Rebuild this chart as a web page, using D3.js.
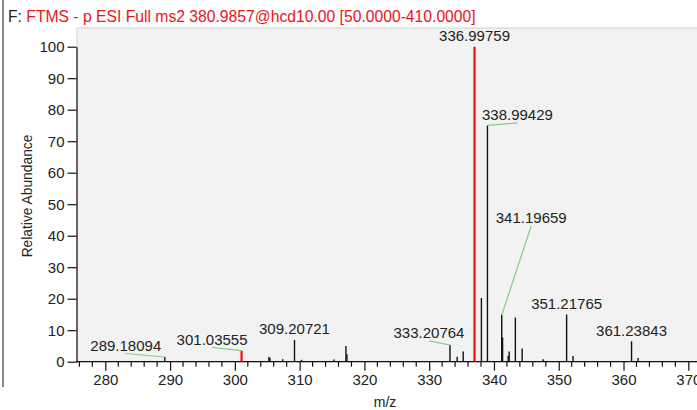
<!DOCTYPE html>
<html>
<head>
<meta charset="utf-8">
<script src="https://cdn.jsdelivr.net/npm/d3@7"></script>
<style>
  html, body { margin: 0; padding: 0; background: #fff; }
  svg { display: block; font-family: "Liberation Sans", Arial, sans-serif; }
</style>
</head>
<body>
<svg id="chart" width="697" height="410"></svg>
<script>
// ---- data ----
const titlePrefix = "F:";
const titleText = "FTMS - p ESI Full ms2 380.9857@hcd10.00 [50.0000-410.0000]";
const xLabel = "m/z";
const yLabel = "Relative Abundance";
const xTickValues = [280, 290, 300, 310, 320, 330, 340, 350, 360, 370];
const yTickValues = [0, 10, 20, 30, 40, 50, 60, 70, 80, 90, 100];

// peaks: m/z and relative abundance
const peakMz = [289.18094, 301.03555, 305.26, 305.42, 307.38, 309.20721, 310.30, 315.30, 317.15, 317.30,
                333.20764, 334.32, 335.25, 336.99759, 338.06, 338.99429, 341.19659, 341.33, 342.19, 342.35,
                343.30, 344.35, 347.60, 351.21765, 352.20, 361.23843, 362.25];
const peakAbundance = [1.5, 3.5, 1.6, 1.2, 0.8, 6.9, 0.6, 0.7, 5.0, 2.4,
                       5.3, 1.6, 3.2, 100, 20.2, 75, 14.8, 7.7, 1.9, 3.2,
                       14.0, 4.2, 0.8, 15.0, 1.8, 6.5, 1.2];
// red highlighted peaks
const highlightedMz = [301.03555, 336.99759];
// labelled peaks
const labelMz = [289.18094, 301.03555, 309.20721, 333.20764, 336.99759, 338.99429, 341.19659, 351.21765, 361.23843];
const labelText = ["289.18094", "301.03555", "309.20721", "333.20764", "336.99759", "338.99429", "341.19659", "351.21765", "361.23843"];

// ---- layout (pixels) ----
const labelLayout = {
  "289.18094": {dx: -39, dy: -6, leader: true},
  "301.03555": {dx: -29.5, dy: -5.7, leader: true},
  "309.20721": {dx: 0, dy: -6, leader: false},
  "333.20764": {dx: -21, dy: -6.7, leader: true},
  "336.99759": {dx: 0, dy: -6, leader: false},
  "338.99429": {dx: 30, dy: -5, leader: true},
  "341.19659": {dx: 29.5, dy: -91.7, leader: true},
  "351.21765": {dx: 0, dy: -5, leader: false},
  "361.23843": {dx: 0, dy: -5.3, leader: false}
};

const svg = d3.select("#chart");
const W = 697, H = 410;
const plotLeft = 77, plotTop = 28, plotBottom = 361.7;

const x = d3.scaleLinear().domain([280, 370]).range([105.3, 688.3]);
const y = d3.scaleLinear().domain([0, 100]).range([361.7, 46.7]);

// outer left border
svg.append("line").attr("x1", 3).attr("x2", 3).attr("y1", 0).attr("y2", 387)
  .attr("stroke", "#8a8a8a").attr("stroke-width", 2);

// title
const title = svg.append("text").attr("x", 8).attr("y", 22).attr("font-size", 15.7);
title.append("tspan").attr("fill", "#222").text(titlePrefix + " ");
title.append("tspan").attr("fill", "#e8141c").text(titleText);

// plot background
svg.append("rect").attr("x", plotLeft).attr("y", plotTop)
  .attr("width", W - plotLeft + 5).attr("height", plotBottom - plotTop)
  .attr("fill", "#f2f2f2").attr("stroke", "#d2d2d2").attr("stroke-width", 1);

// y axis
const yAxis = d3.axisLeft(y).tickValues(yTickValues).tickSize(9).tickPadding(3).tickSizeOuter(0);
const gy = svg.append("g").attr("transform", `translate(${plotLeft - 0.5},0)`).call(yAxis);
gy.select(".domain").attr("stroke", "#111").attr("stroke-width", 1.2);
gy.selectAll(".tick line").attr("stroke", "#111").attr("stroke-width", 1.2);
gy.selectAll(".tick text").attr("font-size", 15).attr("fill", "#222")
  .attr("font-family", "'Liberation Sans', Arial, sans-serif");

// x axis minor ticks
const minorTicks = d3.range(276, 372, 2).filter(v => v % 10 !== 0);
const xDomainPx = [plotLeft - 1, W + 5];
svg.append("g").selectAll("line").data(minorTicks).join("line")
  .attr("x1", d => x(d)).attr("x2", d => x(d))
  .attr("y1", plotBottom).attr("y2", plotBottom + 5)
  .attr("stroke", "#111").attr("stroke-width", 1.2);

// x axis
const xAxis = d3.axisBottom(x).tickValues(xTickValues).tickSize(9).tickPadding(4).tickSizeOuter(0);
const gx = svg.append("g").attr("transform", `translate(0,${plotBottom})`).call(xAxis);
gx.select(".domain").remove();
gx.append("line").attr("x1", xDomainPx[0]).attr("x2", xDomainPx[1]).attr("y1", 0).attr("y2", 0)
  .attr("stroke", "#111").attr("stroke-width", 1.2);
gx.selectAll(".tick line").attr("stroke", "#111").attr("stroke-width", 1.2);
gx.selectAll(".tick text").attr("font-size", 15).attr("fill", "#222")
  .attr("font-family", "'Liberation Sans', Arial, sans-serif");

// axis titles
svg.append("text").attr("x", 385).attr("y", 407).attr("text-anchor", "middle")
  .attr("font-size", 14).attr("fill", "#222").text(xLabel);
svg.append("text").attr("transform", "translate(32,196) rotate(-90)")
  .attr("text-anchor", "middle").attr("font-size", 13.8).attr("fill", "#222").text(yLabel);

// peaks
const peaks = peakMz.map((m, i) => ({mz: m, ab: peakAbundance[i], hl: highlightedMz.includes(m)}));
svg.append("g").selectAll("line").data(peaks).join("line")
  .attr("x1", d => x(d.mz)).attr("x2", d => x(d.mz))
  .attr("y1", y(0)).attr("y2", d => y(d.ab))
  .attr("stroke", d => d.hl ? "#ee1111" : "#111")
  .attr("stroke-width", d => d.hl ? 2.2 : 1.4);

// labels
const labels = labelMz.map((m, i) => {
  const ab = peakAbundance[peakMz.indexOf(m)];
  const L = labelLayout[labelText[i]];
  const px = x(m), py = y(ab);
  return {text: labelText[i], px, py, cx: px + L.dx, by: py + L.dy, leader: L.leader};
});
svg.append("g").selectAll("line").data(labels.filter(d => d.leader)).join("line")
  .attr("x1", d => d.px).attr("y1", d => d.py)
  .attr("x2", d => d.cx).attr("y2", d => d.by + 2.5)
  .attr("stroke", "#7ccf7c").attr("stroke-width", 1.2);
svg.append("g").selectAll("text").data(labels).join("text")
  .attr("x", d => d.cx).attr("y", d => d.by)
  .attr("text-anchor", "middle").attr("font-size", 15).attr("fill", "#222")
  .text(d => d.text);
</script>
</body>
</html>
